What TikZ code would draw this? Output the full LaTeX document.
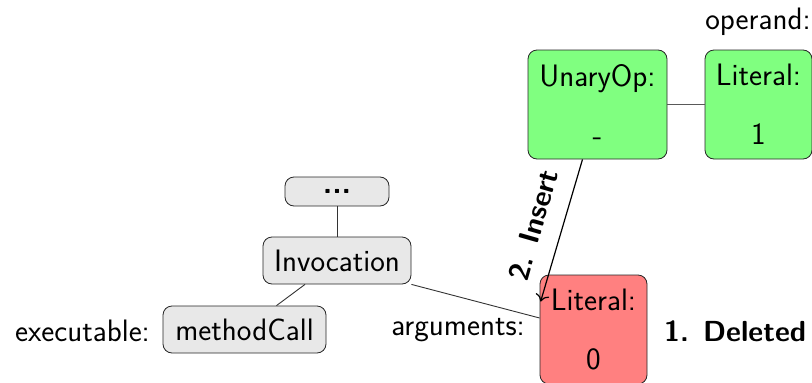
\documentclass[tikz,border=0pt]{standalone}
\usetikzlibrary{calc,arrows.meta}
\begin{document}
\begin{tikzpicture}[x=1pt,y=-1pt,
  txt/.style={font=\sffamily\fontsize{31}{37}\selectfont, inner sep=0pt},
  bold/.style={font=\sffamily\bfseries\fontsize{29}{35}\selectfont, inner sep=0pt},
  box/.style={txt, draw=black!85, line width=0.8pt, rounded corners=9pt, align=center},
  graybox/.style={box, fill=black!9},
  greenbox/.style={box, fill=green!50!white, minimum height=109pt},
  redbox/.style={box, fill=red!50!white, minimum height=109pt},
  edge/.style={draw=black!80, line width=0.9pt}
]
\useasboundingbox (0,0) rectangle (812,383);

% AST nodes
\node[graybox, minimum width=104pt, minimum height=29pt] (dots) at (337,191.5) {\textbf{...}};
\node[graybox, minimum width=148pt, minimum height=47pt] (inv) at (337,260.5) {Invocation};
\node[graybox, minimum width=163pt, minimum height=47pt] (mc) at (244.5,329.5) {methodCall};
\node[greenbox, minimum width=139pt] (un) at (597.5,104.5) {UnaryOp:\\[22pt]-};
\node[greenbox, minimum width=107pt] (lit1) at (758.5,104.5) {Literal:\\[22pt]1};
\node[redbox, minimum width=107pt] (lit0) at (593.5,329.5) {Literal:\\[22pt]0};

% role labels
\node[txt, anchor=east] (exl) at (150,331) {executable:};
\node[txt, anchor=east] (argl) at (525,330) {arguments:};
\node[txt] (opl) at (758,22) {operand:};
\node[bold, anchor=west] (del) at (664,331) {1. Deleted};

% edges
\draw[edge] (dots) -- (inv);
\draw[edge] ($(inv.south)+(-32,0)$) -- ($(mc.north)+(32,0)$);
\draw[edge] (inv.south east) -- ($(lit0.west)+(0,-11.5)$);
\draw[edge, draw=black!65] (un) -- (lit1);

% insertion arrow
\draw[edge, draw=black, line width=1.2pt, -{To[length=7pt,width=14pt]}] ($(un.south)+(-15,0)$) -- ($(lit0.north west)+(1,27)$);
\node[bold, rotate=74] (ins) at (533,225) {2. Insert};
\end{tikzpicture}
\end{document}
